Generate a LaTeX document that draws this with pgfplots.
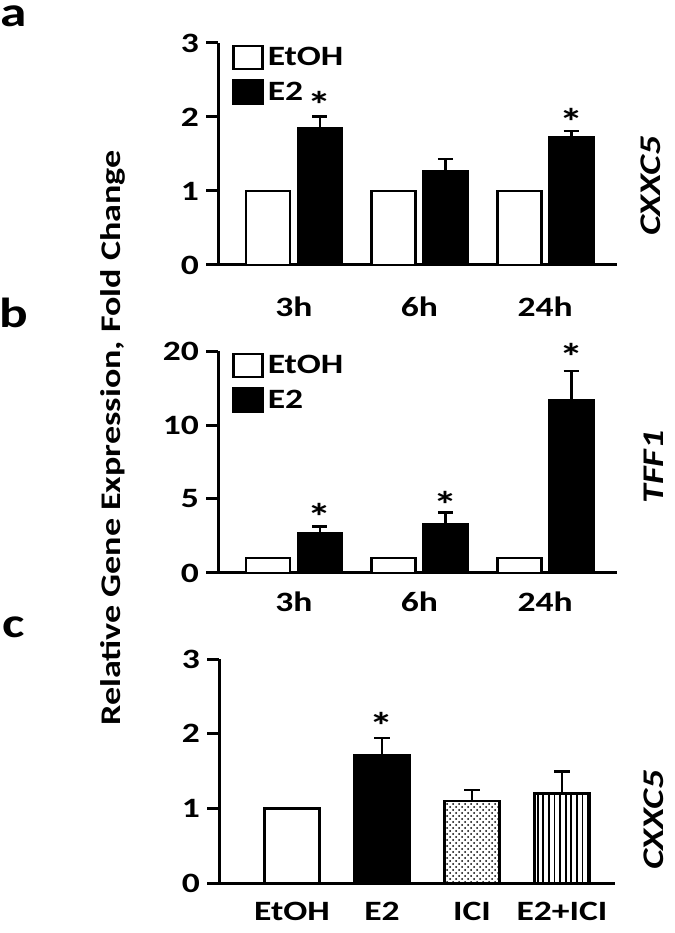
\documentclass[border=0pt]{standalone}
\usepackage{fontspec}
\setmainfont{Carlito}[FakeStretch=1.27]
\usepackage{pgfplots}
\pgfplotsset{compat=1.18}
\usetikzlibrary{patterns,patterns.meta}

\newcommand{\ticfont}{\bfseries\fontsize{14}{14}\selectfont}
\newcommand{\starfont}{\bfseries\fontsize{19}{19}\selectfont}

\pgfplotsset{
  panel/.style={
    scale only axis, width=199.5pt, height=111pt,
    axis lines*=left, axis line style={line width=1.5pt},
    x axis line style={shorten <=-5.5pt},
    ymin=0, clip=false,
    tick align=outside, major tick length=6pt,
    ytick style={line width=1.5pt, black}, xtick style={draw=none},
    tick label style={font=\ticfont},
    /pgf/number format/assume math mode=true,
    xtick={1,2,3},
    error bars/error bar style={line width=1.3pt},
    error bars/error mark options={rotate=90, mark size=3.8pt, line width=1.3pt},
    legend style={at={(0.035,1.0)}, anchor=north west, draw=none, fill=none,
      font=\ticfont, row sep=2.5pt, inner sep=0pt, cells={anchor=west}},
    legend image code/.code={\draw[##1, line width=1.2pt] (0pt,-5.5pt) rectangle (14.5pt,6pt);},
  },
  bar/.style={ybar, bar width=22pt, draw=black, line width=1.3pt,
    error bars/y dir=plus, error bars/y explicit},
  right/.style={bar shift=13pt, error bars/error bar style={xshift=13pt}},
}
\tikzset{letter/.style={anchor=base, inner sep=0pt, text height=10.5pt, text depth=0pt,
    font=\bfseries\fontsize{21}{21}\selectfont}}

\begin{document}
\begin{tikzpicture}
\path[use as bounding box] (0,0) rectangle (337.5pt,466.5pt);

% panel a
\begin{axis}[panel, at={(109pt,334pt)}, anchor=origin,
  xmin=0.397, xmax=3.571, ymax=3, ytick={0,1,2,3},
  xticklabels={3h,6h,24h}, xticklabel style={yshift=-6.5pt}]
\addplot[bar, fill=white, bar shift=-13pt] coordinates {(1,1) (2,1) (3,1)};
\addplot[bar, right, fill=black] coordinates {
  (1,1.85) +- (0,0.16)
  (2,1.26) +- (0,0.17)
  (3,1.73) +- (0,0.08)};
\legend{EtOH,E2}
\node[font=\starfont] at (axis cs:1,2.17) [xshift=13pt] {*};
\node[font=\starfont] at (axis cs:3,1.93) [xshift=13pt] {*};
\end{axis}

% panel b: axis is linear to 10, then half scale from 10 to 20
% (error bars are added after the transform, so the 24h error of 3.9 is given as 1.95)
\begin{axis}[panel, at={(109pt,180pt)}, anchor=origin,
  xmin=0.397, xmax=3.571, ymax=20, ytick={0,5,10,20},
  y coord trafo/.code={\pgfmathparse{(#1<=10) ? #1 : 10+(#1-10)/2}},
  y coord inv trafo/.code={\pgfmathparse{(#1<=10) ? #1 : 10+2*(#1-10)}},
  xticklabels={3h,6h,24h}, xticklabel style={yshift=0pt}]
\addplot[bar, fill=white, bar shift=-13pt] coordinates {(1,1) (2,1) (3,1)};
\addplot[bar, right, fill=black] coordinates {
  (1,2.68) +- (0,0.47)
  (2,3.3) +- (0,0.8)
  (3,13.4) +- (0,1.95)};
\legend{EtOH,E2}
\node[font=\starfont] at (axis cs:1,3.8) [xshift=13pt] {*};
\node[font=\starfont] at (axis cs:2,4.6) [xshift=13pt] {*};
\node[font=\starfont] at (axis cs:3,19.2) [xshift=13pt] {*};
\end{axis}

% panel c
\begin{axis}[panel, width=198pt, height=112pt, at={(109.5pt,25pt)}, anchor=origin,
  xmin=0.189, xmax=4.589, ymax=3, ytick={0,1,2,3},
  xtick={1,2,3,4}, xticklabels={EtOH,E2,ICI,E2+ICI}, xticklabel style={yshift=0pt}]
\addplot[bar, bar width=27.5pt, fill=white] coordinates {(1,1.0)};
\addplot[bar, bar width=27.5pt, fill=black] coordinates {(2,1.71) +- (0,0.23)};
\addplot[bar, bar width=27.5pt, pattern=crosshatch dots] coordinates {(3,1.10) +- (0,0.145)};
\addplot[bar, bar width=27.5pt, pattern={Lines[angle=90, distance=2.8pt, line width=0.9pt]}] coordinates {(4,1.2) +- (0,0.29)};
\node[font=\starfont] at (axis cs:2,2.1) {*};
\end{axis}

% shared labels
\node[rotate=90, font=\bfseries\fontsize{14.2}{14.2}\selectfont] at (56.5pt,247.5pt) {Relative Gene Expression, Fold Change};
\node[rotate=90, font=\bfseries\itshape\fontsize{15}{15}\selectfont] at (325.5pt,373.5pt) {CXXC5};
\node[rotate=90, font=\bfseries\itshape\fontsize{15}{15}\selectfont] at (327pt,233pt) {TFF1};
\node[rotate=90, font=\bfseries\itshape\fontsize{15}{15}\selectfont] at (327pt,56.5pt) {CXXC5};
\node[letter] at (7pt,453pt) {a};
\node[letter] at (7pt,302.5pt) {b};
\node[letter] at (7pt,147.5pt) {c};
\end{tikzpicture}
\end{document}
